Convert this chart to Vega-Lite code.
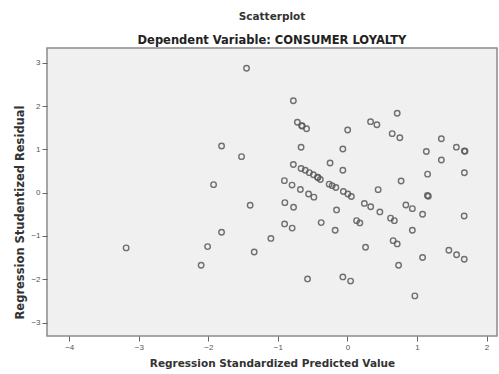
{
  "$schema": "https://vega.github.io/schema/vega-lite/v6.json",
  "width": 450,
  "height": 288,
  "autosize": {"type": "none"},
  "padding": {"left": 47, "top": 48, "right": 2, "bottom": 38},
  "background": "#ffffff",
  "title": {
    "text": "Scatterplot",
    "subtitle": "Dependent Variable: CONSUMER LOYALTY",
    "anchor": "middle",
    "font": "DejaVu Sans",
    "fontSize": 10.5,
    "fontWeight": "bold",
    "color": "#333333",
    "subtitleFont": "DejaVu Sans",
    "subtitleFontSize": 11.5,
    "subtitleFontWeight": "bold",
    "subtitleColor": "#222222",
    "subtitlePadding": 12,
    "offset": 2
  },
  "config": {
    "view": {"fill": "#f0f0f0", "stroke": "#8a8a8a", "strokeWidth": 1.5},
    "axis": {"grid": false, "domain": false}
  },
  "data": {
    "values": [
      {"pred": -1.451, "resid": 2.871},
      {"pred": -1.810, "resid": 1.078},
      {"pred": -1.523, "resid": 0.831},
      {"pred": -1.925, "resid": 0.185},
      {"pred": -1.399, "resid": -0.291},
      {"pred": -1.810, "resid": -0.914},
      {"pred": -2.011, "resid": -1.246},
      {"pred": -1.341, "resid": -1.369},
      {"pred": -3.182, "resid": -1.276},
      {"pred": -2.104, "resid": -1.676},
      {"pred": -1.101, "resid": -1.057},
      {"pred": -0.778, "resid": 2.123},
      {"pred": -0.720, "resid": 1.627},
      {"pred": -0.659, "resid": 1.546},
      {"pred": -0.650, "resid": 1.540},
      {"pred": -0.588, "resid": 1.475},
      {"pred": 0.003, "resid": 1.447},
      {"pred": 0.332, "resid": 1.639},
      {"pred": 0.423, "resid": 1.567},
      {"pred": 0.715, "resid": 1.832},
      {"pred": 0.643, "resid": 1.362},
      {"pred": 0.753, "resid": 1.269},
      {"pred": 1.350, "resid": 1.246},
      {"pred": -0.667, "resid": 1.048},
      {"pred": -0.066, "resid": 1.009},
      {"pred": 1.134, "resid": 0.951},
      {"pred": 1.566, "resid": 1.050},
      {"pred": 1.681, "resid": 0.962},
      {"pred": 1.690, "resid": 0.955},
      {"pred": 1.350, "resid": 0.755},
      {"pred": -0.250, "resid": 0.685},
      {"pred": -0.778, "resid": 0.651},
      {"pred": -0.066, "resid": 0.517},
      {"pred": 1.152, "resid": 0.427},
      {"pred": 1.681, "resid": 0.459},
      {"pred": -0.667, "resid": 0.558},
      {"pred": -0.607, "resid": 0.517},
      {"pred": -0.548, "resid": 0.462},
      {"pred": -0.490, "resid": 0.413},
      {"pred": -0.430, "resid": 0.355},
      {"pred": -0.425, "resid": 0.350},
      {"pred": -0.390, "resid": 0.305},
      {"pred": -0.907, "resid": 0.277},
      {"pred": -0.797, "resid": 0.175},
      {"pred": -0.677, "resid": 0.074},
      {"pred": -0.559, "resid": -0.030},
      {"pred": -0.483, "resid": -0.104},
      {"pred": -0.263, "resid": 0.196},
      {"pred": -0.220, "resid": 0.162},
      {"pred": -0.167, "resid": 0.120},
      {"pred": -0.059, "resid": 0.028},
      {"pred": 0.006, "resid": -0.030},
      {"pred": 0.056, "resid": -0.088},
      {"pred": 0.441, "resid": 0.069},
      {"pred": 0.771, "resid": 0.270},
      {"pred": 1.149, "resid": -0.065},
      {"pred": 1.163, "resid": -0.083},
      {"pred": -0.900, "resid": -0.231},
      {"pred": -0.775, "resid": -0.337},
      {"pred": -0.157, "resid": -0.399},
      {"pred": 0.243, "resid": -0.249},
      {"pred": 0.334, "resid": -0.325},
      {"pred": 0.466, "resid": -0.445},
      {"pred": 0.840, "resid": -0.284},
      {"pred": 0.933, "resid": -0.369},
      {"pred": 1.080, "resid": -0.498},
      {"pred": 1.678, "resid": -0.538},
      {"pred": -0.904, "resid": -0.722},
      {"pred": -0.795, "resid": -0.819},
      {"pred": -0.378, "resid": -0.692},
      {"pred": -0.177, "resid": -0.868},
      {"pred": 0.131, "resid": -0.646},
      {"pred": 0.178, "resid": -0.699},
      {"pred": 0.620, "resid": -0.589},
      {"pred": 0.674, "resid": -0.646},
      {"pred": 0.933, "resid": -0.868},
      {"pred": 0.260, "resid": -1.260},
      {"pred": 0.657, "resid": -1.108},
      {"pred": 0.715, "resid": -1.184},
      {"pred": 1.080, "resid": -1.496},
      {"pred": 1.458, "resid": -1.329},
      {"pred": 1.569, "resid": -1.433},
      {"pred": 1.679, "resid": -1.537},
      {"pred": 0.735, "resid": -1.676},
      {"pred": -0.574, "resid": -1.992},
      {"pred": -0.066, "resid": -1.946},
      {"pred": 0.045, "resid": -2.042},
      {"pred": 0.969, "resid": -2.384}
    ]
  },
  "mark": {
    "type": "point",
    "shape": "circle",
    "filled": false,
    "size": 30,
    "stroke": "#5a5a5a",
    "strokeWidth": 1.4,
    "opacity": 0.85
  },
  "encoding": {
    "x": {
      "field": "pred",
      "type": "quantitative",
      "scale": {"domain": [-4.32, 2.15], "nice": false, "zero": false},
      "axis": {
        "title": "Regression Standardized Predicted Value",
        "titleFont": "DejaVu Sans",
        "titleFontSize": 10.5,
        "titleFontWeight": "bold",
        "titleColor": "#333333",
        "titlePadding": 7,
        "values": [-4, -3, -2, -1, 0, 1, 2],
        "format": "d",
        "labelFont": "Liberation Sans",
        "labelFontSize": 8,
        "labelColor": "#555555",
        "tickColor": "#666666",
        "tickSize": 5,
        "labelPadding": 2
      }
    },
    "y": {
      "field": "resid",
      "type": "quantitative",
      "scale": {"domain": [-3.31, 3.34], "nice": false, "zero": false},
      "axis": {
        "title": "Regression Studentized Residual",
        "titleFont": "DejaVu Sans",
        "titleFontSize": 11.5,
        "titleFontWeight": "bold",
        "titleColor": "#333333",
        "titlePadding": 5,
        "titleY": 164,
        "values": [-3, -2, -1, 0, 1, 2, 3],
        "format": "d",
        "labelFont": "Liberation Sans",
        "labelFontSize": 8,
        "labelColor": "#555555",
        "tickColor": "#666666",
        "tickSize": 5,
        "labelPadding": 2
      }
    }
  }
}
